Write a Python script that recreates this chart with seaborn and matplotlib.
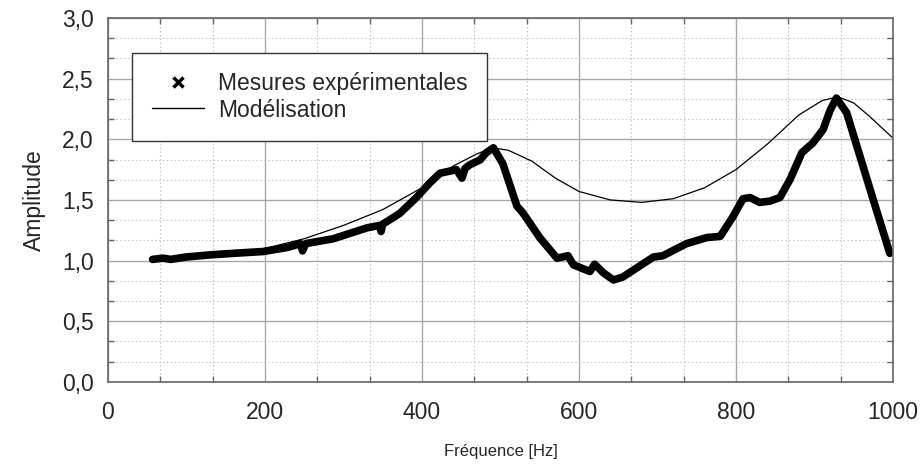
import numpy as np
import pandas as pd
import seaborn as sns
import matplotlib.pyplot as plt
from matplotlib.ticker import MultipleLocator, FuncFormatter

freq_mes = [57, 70, 80, 100, 130, 160, 198, 230, 245, 248, 252, 287, 330, 346, 348, 350,
            372, 393, 410, 423, 444, 451, 455, 461, 474, 482, 491,
            503, 521, 529, 550, 572, 586, 593, 614, 620, 631, 644, 656, 669, 695, 707,
            737, 763, 780, 796, 809, 818, 830, 843, 856, 869, 884, 898, 911, 920, 928,
            941, 958, 975, 996]
amp_mes = [1.01, 1.02, 1.01, 1.03, 1.047, 1.06, 1.075, 1.11, 1.14, 1.08, 1.14, 1.18, 1.27, 1.29, 1.24, 1.30,
           1.39, 1.52, 1.64, 1.72, 1.75, 1.68, 1.76, 1.79, 1.83, 1.89, 1.93,
           1.80, 1.45, 1.39, 1.19, 1.02, 1.04, 0.965, 0.91, 0.97, 0.90, 0.84, 0.865, 0.92, 1.03, 1.04,
           1.14, 1.19, 1.20, 1.36, 1.51, 1.52, 1.48, 1.49, 1.52, 1.67, 1.89, 1.97, 2.08, 2.24, 2.34,
           2.22, 1.86, 1.50, 1.06]

# model curve
freq_mod = [60, 100, 150, 200, 250, 300, 350, 400, 440, 470, 490, 510, 540, 570, 600,
            640, 680, 720, 760, 800, 840, 880, 910, 930, 950, 970, 1000]
amp_mod = [1.00, 1.02, 1.05, 1.10, 1.18, 1.29, 1.42, 1.60, 1.78, 1.88, 1.93, 1.91, 1.82, 1.68, 1.57,
           1.50, 1.48, 1.51, 1.60, 1.75, 1.96, 2.20, 2.32, 2.35, 2.30, 2.19, 2.01]

df_mes = pd.DataFrame({"f": freq_mes, "a": amp_mes})
df_mod = pd.DataFrame({"f": freq_mod, "a": amp_mod})

sns.set_style("white")
plt.rcParams['font.family'] = ['Liberation Sans', 'DejaVu Sans']

fig = plt.figure(figsize=(9.22, 4.68), dpi=100)
ax = fig.add_axes([0.117, 0.184, 0.8515, 0.7775])

sns.lineplot(data=df_mes, x="f", y="a", ax=ax, color="black", linewidth=5.5,
             sort=False, legend=False)
sns.lineplot(data=df_mod, x="f", y="a", ax=ax, color="black", linewidth=0.9,
             sort=False, legend=False)

ax.set_xlim(0, 1000)
ax.set_ylim(0, 3.0)
ax.xaxis.set_major_locator(MultipleLocator(200))
ax.xaxis.set_minor_locator(MultipleLocator(200 / 3))
ax.yaxis.set_major_locator(MultipleLocator(0.5))
ax.yaxis.set_minor_locator(MultipleLocator(0.5 / 3))
ax.yaxis.set_major_formatter(FuncFormatter(lambda v, p: f"{v:.1f}".replace(".", ",")))

ax.grid(which="major", color="#a8a8a8", linewidth=1.0, linestyle="-")
ax.grid(which="minor", color="#c8c8c8", linewidth=0.8, linestyle=(0, (1.5, 2)))
ax.set_axisbelow(True)

for s in ax.spines.values():
    s.set_color("#666666")
    s.set_linewidth(1.2)

ax.tick_params(which="major", direction="out", length=5, width=1, color="#666666",
               labelsize=16.5, pad=5)
ax.tick_params(which="minor", direction="in", length=4, width=1, color="#666666",
               top=True, right=True, bottom=True, left=True)
ax.tick_params(axis="x", which="major", pad=9)

ax.set_xlabel("Fréquence [Hz]", fontsize=12, labelpad=14)
ax.set_ylabel("Amplitude", fontsize=16.5, labelpad=12)

h1 = plt.Line2D([], [], color="black", marker="x", linestyle="None", markersize=7,
                markeredgewidth=2.5)
h2 = plt.Line2D([], [], color="black", linewidth=1.0)
leg = ax.legend([h1, h2], ["Mesures expérimentales", "Modélisation"],
                loc="upper left", bbox_to_anchor=(0.031, 0.905), fontsize=16.5,
                frameon=True, fancybox=False, framealpha=1, edgecolor="#333333",
                handlelength=2.3, handletextpad=0.6, borderpad=0.85, labelspacing=0.15,
                borderaxespad=0)
leg.get_frame().set_linewidth(1.0)

fig.savefig("out.png", dpi=100)
